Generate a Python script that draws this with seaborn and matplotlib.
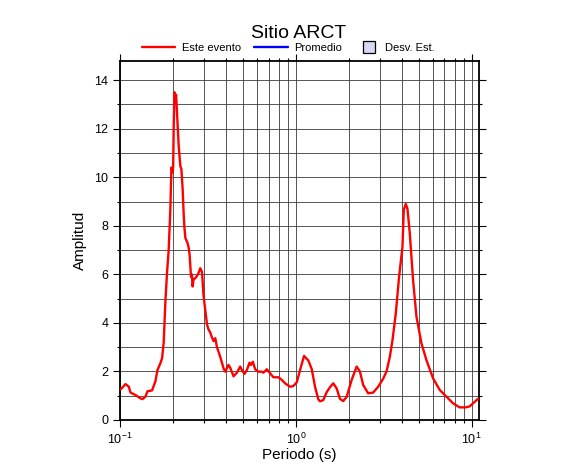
import matplotlib
matplotlib.use("Agg")
import matplotlib.pyplot as plt
import seaborn as sns
import numpy as np
import pandas as pd
from matplotlib.lines import Line2D
from matplotlib.patches import Patch, Rectangle
from matplotlib.legend_handler import HandlerPatch
from matplotlib.ticker import LogLocator, MultipleLocator

title = "Sitio ARCT"
xlabel = "Periodo (s)"
ylabel = "Amplitud"
legend_labels = ["Este evento", "Promedio", "Desv. Est."]

period = [0.1007, 0.1020, 0.1075, 0.1122, 0.1147, 0.1224, 0.1307, 0.1341, 0.1395, 0.1432,
          0.1522, 0.1590, 0.1632, 0.1697, 0.1735, 0.1772, 0.1812, 0.1852, 0.1891, 0.1934,
          0.1960, 0.1993, 0.2006, 0.2019, 0.2038, 0.2064, 0.2084, 0.2111, 0.2156, 0.2204,
          0.2233, 0.2271, 0.2301, 0.2322, 0.2353, 0.2424, 0.2456, 0.2488, 0.2534, 0.2561,
          0.2587, 0.2621, 0.2680, 0.2777, 0.2861, 0.2925, 0.2987, 0.3055, 0.3123, 0.3177,
          0.3261, 0.3334, 0.3404, 0.3481, 0.3559, 0.3715, 0.3879, 0.3966, 0.4141, 0.4235,
          0.4421, 0.4621, 0.4826, 0.4934, 0.5104, 0.5267, 0.5448, 0.5549, 0.5695, 0.5869,
          0.6127, 0.6405, 0.6541, 0.6837, 0.7139, 0.7454, 0.7957, 0.8318, 0.8685, 0.9270,
          0.9678, 1.0118, 1.0564, 1.1130, 1.1773, 1.2308, 1.2851, 1.3417, 1.3720, 1.4322,
          1.4973, 1.5632, 1.6319, 1.7061, 1.7812, 1.8596, 1.9443, 2.0758, 2.2156, 2.3131,
          2.4149, 2.5781, 2.7523, 2.9378, 3.1360, 3.2784, 3.4227, 3.5454, 3.7015, 3.8637,
          4.0390, 4.1084, 4.2170, 4.3121, 4.4434, 4.6392, 4.8497, 5.1773, 5.5259, 6.0256,
          6.5748, 7.1762, 7.8233, 8.5388, 9.2348, 9.7296, 10.158, 10.844, 11.015]
amplitude = [1.26, 1.30, 1.48, 1.37, 1.13, 1.03, 0.89, 0.86, 0.96, 1.18,
             1.22, 1.60, 2.05, 2.34, 2.55, 3.20, 4.90, 6.10, 7.00, 8.70,
             10.40, 10.20, 10.45, 12.00, 13.50, 13.25, 13.40, 12.60, 11.30, 10.45,
             10.35, 9.50, 8.50, 7.97, 7.50, 7.28, 7.10, 6.80, 5.90, 6.00,
             5.50, 5.80, 5.84, 6.00, 6.25, 6.10, 5.10, 4.50, 3.95, 3.75,
             3.60, 3.40, 3.25, 3.37, 3.00, 2.60, 2.13, 1.99, 2.27, 2.15,
             1.80, 1.95, 2.20, 2.06, 1.90, 2.06, 2.36, 2.27, 2.40, 2.09,
             1.99, 1.99, 1.95, 2.09, 1.92, 1.76, 1.76, 1.65, 1.51, 1.37,
             1.40, 1.55, 2.06, 2.64, 2.45, 2.10, 1.37, 0.85, 0.77, 0.82,
             1.15, 1.35, 1.51, 1.30, 0.87, 0.78, 0.95, 1.65, 2.20, 2.00,
             1.44, 1.10, 1.13, 1.37, 1.70, 2.00, 2.60, 3.30, 4.40, 5.90,
             7.14, 8.66, 8.90, 8.70, 7.70, 5.77, 4.26, 3.16, 2.47, 1.72,
             1.24, 0.96, 0.69, 0.52, 0.52, 0.56, 0.68, 0.87, 0.88]

df = pd.DataFrame({"period": period, "amplitude": amplitude})

sns.set_theme(style="ticks")
plt.rcParams["font.family"] = ["Liberation Sans", "DejaVu Sans"]
plt.rcParams["mathtext.fontset"] = "custom"
plt.rcParams["mathtext.rm"] = "Liberation Sans"
plt.rcParams["mathtext.it"] = "Liberation Sans:italic"
for k in ["text.color", "axes.labelcolor", "xtick.color", "ytick.color", "axes.edgecolor"]:
    plt.rcParams[k] = "black"

fig = plt.figure(figsize=(5.86, 4.75), dpi=100)
ax = fig.add_axes([0.2048, 0.1158, 0.6126, 0.7564])

sns.lineplot(data=df, x="period", y="amplitude", color="red", linewidth=1.7,
             ax=ax, sort=False, legend=False, zorder=3)

ax.set_xscale("log")
ax.set_xlim(0.1, 11.0)
ax.set_ylim(0, 14.8)
ax.xaxis.set_major_locator(LogLocator(base=10))
ax.xaxis.set_minor_locator(LogLocator(base=10, subs=np.arange(2, 10)))
ax.yaxis.set_major_locator(MultipleLocator(2))
ax.yaxis.set_minor_locator(MultipleLocator(1))

ax.grid(True, which="both", color="#3a3a3a", linewidth=0.6)
for s in ax.spines.values():
    s.set_visible(True)
    s.set_linewidth(1.3)
    s.set_color("black")
ax.tick_params(which="both", direction="out", top=True, right=True, colors="black",
               labelsize=9, width=0.8)
ax.tick_params(which="major", length=5)
ax.tick_params(which="minor", length=2.5)

ax.set_xlabel(xlabel, fontsize=11)
ax.set_ylabel(ylabel, fontsize=11)
ax.xaxis.label.set_va("center")
ax.yaxis.label.set_va("center")
ax.xaxis.set_label_coords(0.5, -0.097)
ax.yaxis.set_label_coords(-0.111, 0.5)

fig.text(0.510, 0.9305, title, ha="center", va="center", fontsize=14, color="black")


def square_patch(legend, orig_handle, xdescent, ydescent, width, height, fontsize):
    side = 8.6
    x0 = -xdescent + width - side - 2.4
    y0 = -ydescent + height / 2 - side / 2
    return Rectangle((x0, y0), side, side)


line_handles = [
    Line2D([], [], color="red", linewidth=1.7),
    Line2D([], [], color="blue", linewidth=1.7),
]
fig.legend(line_handles, legend_labels[:2], loc="center left", bbox_to_anchor=(0.2423, 0.899),
           ncol=2, frameon=False, fontsize=8, handlelength=3.0, handletextpad=0.6,
           columnspacing=1.2, borderpad=0, borderaxespad=0)

box_handle = [Patch(facecolor="#d8d8f4", edgecolor="black", linewidth=0.9)]
fig.legend(box_handle, legend_labels[2:], loc="center left", bbox_to_anchor=(0.617, 0.899),
           frameon=False, fontsize=8, handlelength=1.5, handletextpad=0.6,
           borderpad=0, borderaxespad=0,
           handler_map={Patch: HandlerPatch(patch_func=square_patch)})

fig.savefig("out.png", dpi=100)
